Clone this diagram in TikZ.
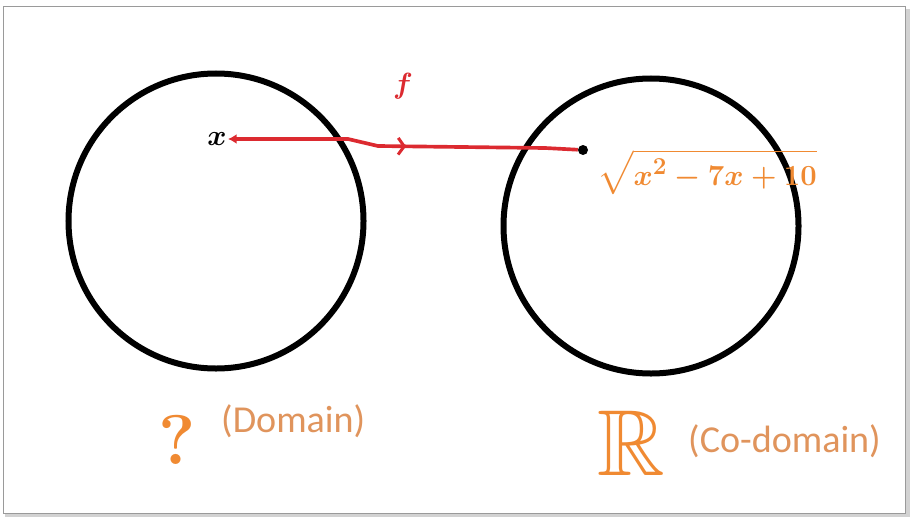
\documentclass[tikz,border=0pt]{standalone}
\usepackage{amsmath,amssymb,bm}
\usepackage{fontspec}
\newfontfamily\labelfont{Carlito}
\usetikzlibrary{arrows.meta,decorations.markings}
\definecolor{handorange}{HTML}{F08A32}
\definecolor{softorange}{HTML}{E0945C}
\definecolor{mapred}{HTML}{DC2A30}
\definecolor{framegray}{HTML}{9A9A9A}
\tikzset{
  setcircle/.style={circle,draw=black,line width=1.8mm,minimum size=88.5mm,inner sep=0pt},
  imgdot/.style={circle,fill=black,inner sep=0pt,minimum size=3mm},
  mapline/.style={draw=mapred,line width=1.1mm,-{Latex[length=2.6mm,width=3mm]},
    postaction={decorate,decoration={markings,
      mark=at position 0.49 with {\arrowreversed[mapred]{Straight Barb[length=1.8mm,width=5mm,line width=0.9mm]}}}}},
  handorange/.style={text=handorange,inner sep=1pt},
  softlabel/.style={text=softorange,font=\labelfont\fontsize{32.5}{34}\selectfont,inner sep=0pt},
  frameline/.style={draw=framegray,line width=0.3mm},
  shadowline/.style={draw=gray!35,line width=1mm}
}
\begin{document}
\begin{tikzpicture}[x=0.3mm,y=-0.3mm]
  \useasboundingbox (0,0) rectangle (914,518);
  % frame and shadow
  \draw[shadowline] (7,11) rectangle (908,515);
  \draw[frameline,fill=white] (3,7) rectangle (905,513);
  % the two sets
  \node[setcircle] (domain) at (216,221) {};
  \node[setcircle] (codomain) at (651,226) {};
  % element and its image
  \node[font=\fontsize{30}{30}\selectfont,inner sep=1pt] (xpt) at (217,139) {$\bm{x}$};
  \node[imgdot] (img) at (583,150) {};
  \node[text=mapred,font=\fontsize{50}{50}\selectfont] (fname) at (403,86) {$\bm{f}$};
  \node[handorange,font=\fontsize{31}{31}\selectfont] (rule) at (707,172) {$\bm{\sqrt{x^2-7x+10}}$};
  \draw[mapline] (img) -- (545,148) -- (378,146) -- (348,139) -- (xpt);
  % labels below
  \node[handorange,font=\bfseries\fontsize{60}{60}\selectfont] (qmark) at (177,440) {?};
  \node[softlabel,anchor=west] (domlabel) at (221,421) {(Domain)};
  \node[handorange,font=\fontsize{80}{80}\selectfont] (reals) at (631,443) {$\mathbb{R}$};
  \node[softlabel,anchor=west] (codlabel) at (688,441) {(Co-domain)};
\end{tikzpicture}
\end{document}
